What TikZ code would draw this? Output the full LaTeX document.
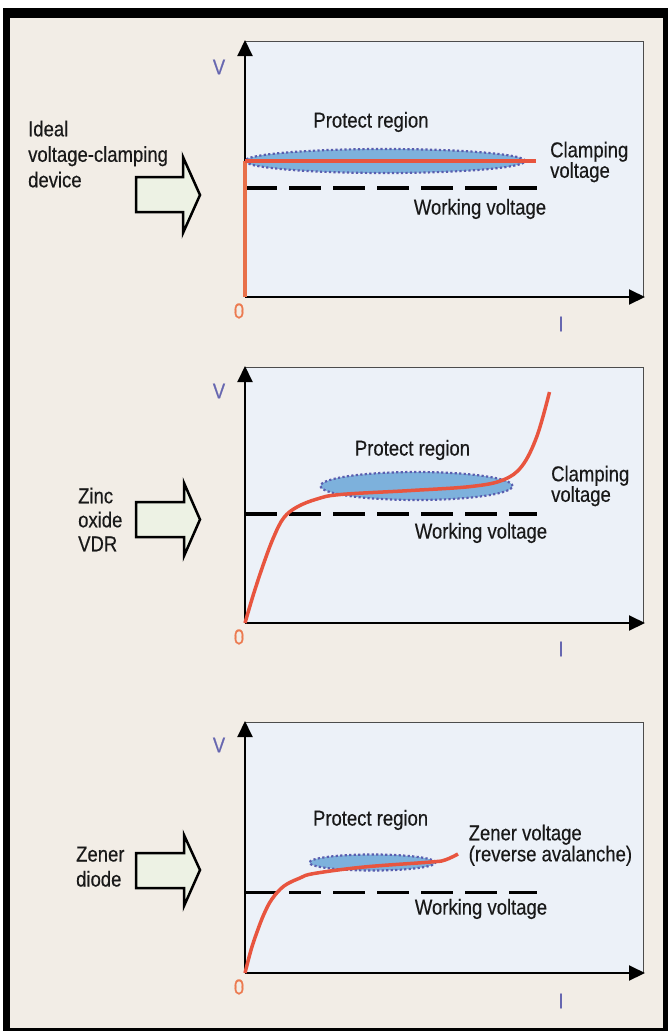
\documentclass[tikz,border=0pt]{standalone}
\usepackage{fontspec}
\setmainfont{Liberation Sans}[FakeStretch=0.86, FakeBold=0.4]
\usetikzlibrary{arrows.meta}
\definecolor{beige}{HTML}{F2EDE6}
\definecolor{panel}{HTML}{ECF1F8}
\definecolor{curvered}{HTML}{E8553F}
\definecolor{curveorange}{HTML}{E8704A}
\definecolor{zerocol}{HTML}{EC7A50}
\definecolor{axlab}{HTML}{6767B0}
\definecolor{ellfill}{HTML}{7DB1DC}
\definecolor{elldraw}{HTML}{5A5EAF}
\definecolor{arrfill}{HTML}{EDF2E4}
\begin{document}
\begin{tikzpicture}[x=1pt,y=-1pt,
  lbl/.style={font=\fontsize{21.5}{24}\selectfont, text=black!90, inner sep=0pt},
  twoline/.style={lbl, align=left, anchor=north west, font=\fontsize{21.5}{#1}\selectfont},
  axislab/.style={lbl, text=axlab},
  zerolab/.style={lbl, text=zerocol},
  axisarrow/.style={line width=2pt, black, -{Triangle[length=16pt,width=15pt]}},
  panelbox/.style={fill=panel},
  paneledge/.style={draw=black!70, line width=0.8pt},
  curveline/.style={curvered, line width=3.5pt},
  workline/.style={black, line width=3.5pt, dash pattern=on 32pt off 12pt},
  protect/.style={fill=ellfill, draw=elldraw, line width=2.2pt, dash pattern=on 2.2pt off 2.3pt},
  blockarrow/.style={fill=arrfill, draw=black, line width=2.5pt, miter limit=10}
]
\useasboundingbox (0,0) rectangle (668,1031);
\fill[white] (0,0) rectangle (668,1031);
\fill[black] (3,8) rectangle (668,1031);
\fill[beige] (10,18) rectangle (663,1028);

% ---------------- Panel 1 ----------------
\fill[panelbox] (245,41) rectangle (643,297);
\draw[paneledge] (245,41) -- (643,41) -- (643,297);
\coordinate (o1) at (245,297);
\coordinate (ytop1) at (245,40);
\coordinate (xend1) at (645,297);
\draw[axisarrow] (o1) -- (ytop1);
\draw[axisarrow] (o1) -- (xend1);
\filldraw[protect] (385,161) ellipse [x radius=140pt, y radius=12pt];
\draw[workline] (245,188) -- (537,188);
\draw[curveorange, line width=3.5pt] (o1) -- (245,161);
\draw[curveline] (245,161) -- (536,161);
\node[lbl] (pr1) at (371,122) {Protect region};
\node[twoline=20.5] (cv1) at (550,141.5) {Clamping\\voltage};
\node[lbl] (wv1) at (480,209) {Working voltage};
\node[zerolab] (z1) at (239,311) {0};
\node[axislab] (i1) at (561,324) {I};
\node[axislab] (v1) at (219,67) {V};
\node[twoline=25.5] (dev1) at (28,120.5) {Ideal\\voltage-clamping\\device};
\draw[blockarrow] (136,177) -- (183,177) -- (183,157) -- (200,195) -- (183,233) -- (183,212) -- (136,212) -- cycle;

% ---------------- Panel 2 ----------------
\fill[panelbox] (245,367) rectangle (643,623);
\draw[paneledge] (245,367) -- (643,367) -- (643,623);
\coordinate (o2) at (245,623);
\coordinate (ytop2) at (245,366);
\coordinate (xend2) at (645,623);
\draw[axisarrow] (o2) -- (ytop2);
\draw[axisarrow] (o2) -- (xend2);
\filldraw[protect] (416.5,486) ellipse [x radius=96pt, y radius=14pt];
\draw[workline] (245,514) -- (537,514);
\draw[curveline] plot[smooth, tension=0.6] coordinates {(245,623) (253.4,594.5) (263.5,564) (273.5,537.5) (283.6,518) (297,507) (317,499) (340.5,494.5) (411,490.5) (471,486.5) (503,480) (522,466) (537,436) (549.5,392)};
\node[lbl] (pr2) at (412.5,450) {Protect region};
\node[twoline=20.5] (cv2) at (551,465.5) {Clamping\\voltage};
\node[lbl] (wv2) at (481,533) {Working voltage};
\node[zerolab] (z2) at (239,637) {0};
\node[axislab] (i2) at (561,649) {I};
\node[axislab] (v2) at (219,391) {V};
\node[twoline=24] (dev2) at (78,487.5) {Zinc\\oxide\\VDR};
\draw[blockarrow] (136,502) -- (184,502) -- (184,483) -- (200,519.5) -- (184,556) -- (184,537) -- (136,537) -- cycle;

% ---------------- Panel 3 ----------------
\fill[panelbox] (245,722) rectangle (643,973);
\draw[paneledge] (245,722) -- (643,722) -- (643,973);
\coordinate (o3) at (245,973);
\coordinate (ytop3) at (245,721);
\coordinate (xend3) at (645,973);
\draw[axisarrow] (o3) -- (ytop3);
\draw[axisarrow] (o3) -- (xend3);
\filldraw[protect] (372.4,862.5) ellipse [x radius=63pt, y radius=8pt];
\draw[workline] (245,892.7) -- (537,892.7);
\draw[curveline] plot[smooth, tension=0.6] coordinates {(245,973) (251,950) (257,932) (264,914) (272,899) (284,886) (300,878) (314,873.5) (364,867) (431,862) (445,860) (458,854)};
\node[lbl] (pr3) at (370.6,820) {Protect region};
\node[twoline=20] (zv3) at (468.5,824.5) {Zener voltage\\(reverse avalanche)};
\node[lbl] (wv3) at (481,909) {Working voltage};
\node[zerolab] (z3) at (239,987) {0};
\node[axislab] (i3) at (561,1001) {I};
\node[axislab] (v3) at (219,745) {V};
\node[twoline=25] (dev3) at (76,846.5) {Zener\\diode};
\draw[blockarrow] (136,853) -- (184,853) -- (184,835) -- (200,870) -- (184,906) -- (184,888) -- (136,888) -- cycle;
\end{tikzpicture}
\end{document}
